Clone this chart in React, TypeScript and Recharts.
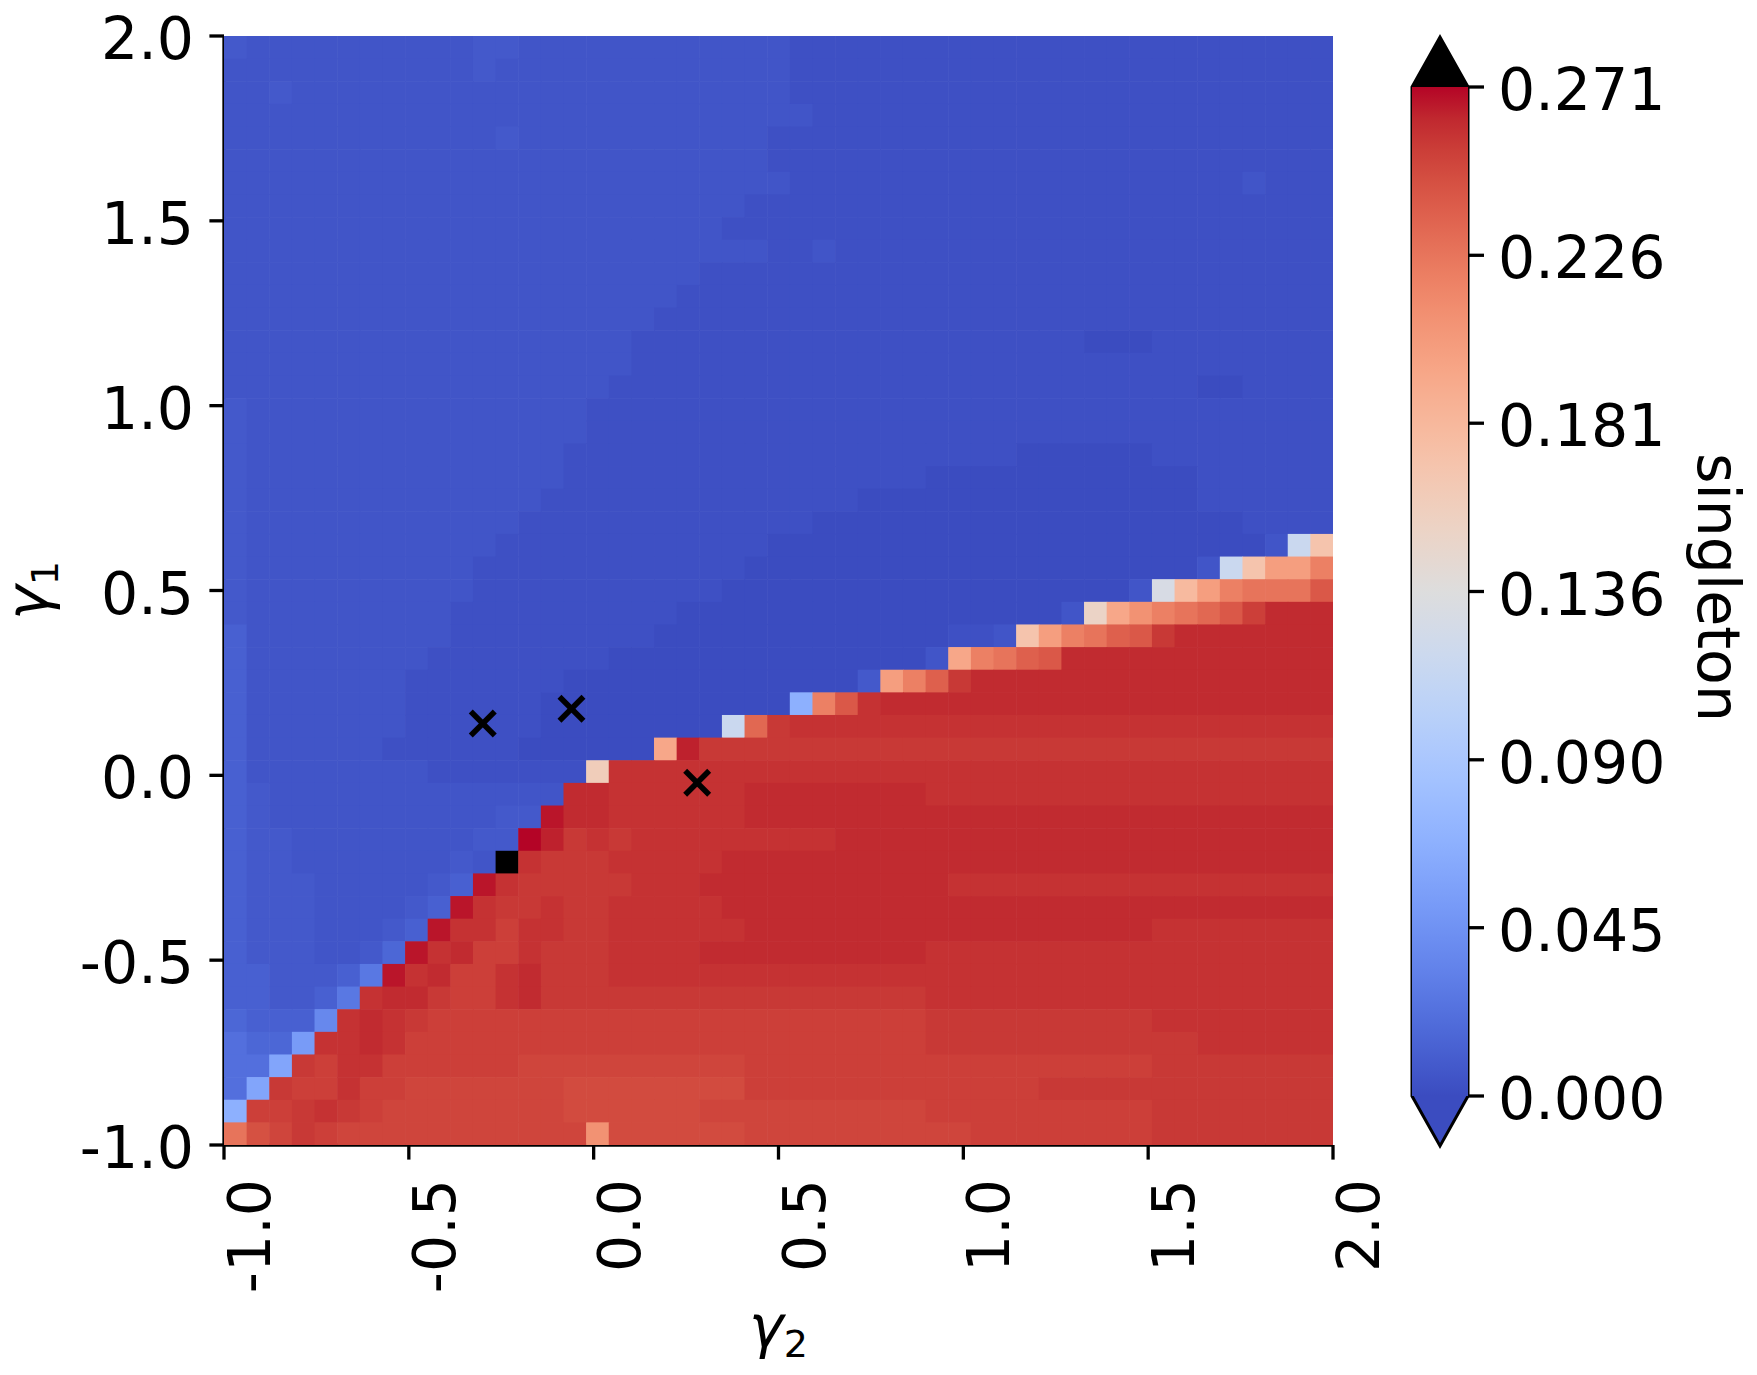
import React from "react";
import {
    ScatterChart,
    Scatter,
    XAxis,
    YAxis,
    BarChart,
    Bar,
    Customized
} from "recharts";

// ===============================
// data
// ===============================

// (γ2, γ1) grid: 49 x 49 cells over [-1, 2]
const GAMMA_MIN = -1;
const GAMMA_MAX = 2;
const GRID_N = 49;

const AXIS_TICKS = [-1, -0.5, 0, 0.5, 1, 1.5, 2];
const AXIS_LABELS = ["-1.0", "-0.5", "0.0", "0.5", "1.0", "1.5", "2.0"];

const CB_MAX = 0.271;
const CB_TICKS = [0, 0.0452, 0.0903, 0.1355, 0.1807, 0.2258, 0.271];
const CB_LABELS = ["0.000", "0.045", "0.090", "0.136", "0.181", "0.226", "0.271"];

// singleton value for each letter used in ROWS ("#" = above colour range)
const LEVELS: Record<string, number> = {
    A: 0.0, B: 0.0027, C: 0.0054, D: 0.0081, E: 0.0122, F: 0.0163,
    G: 0.0217, H: 0.0271, I: 0.0379, J: 0.0515, K: 0.0596, L: 0.0678,
    O: 0.1165, P: 0.1287, R: 0.1518, S: 0.1599, T: 0.1694, U: 0.1789,
    V: 0.1938, W: 0.2005, X: 0.2087, Y: 0.2195, Z: 0.2263,
    a: 0.2331, b: 0.2371, c: 0.2412, d: 0.2453, e: 0.248, f: 0.2507,
    g: 0.2534, h: 0.2561, i: 0.2588, j: 0.2615, k: 0.2642, l: 0.2669,
    m: 0.271, "#": 0.285
};

// one row per γ1 step, top row (γ1 ≈ 2) first, run-length coded: <level><count>
const ROWS = [
    "D1 C10 D2 C12 B24",
    "C11 D1 C13 B24",
    "C2 D1 C22 B24",
    "C26 B23",
    "C12 D1 C11 B25",
    "C24 B25",
    "C25 B20 C1 B3",
    "C23 B26",
    "C22 B27",
    "C24 B2 C1 B22",
    "C21 B28",
    "C20 B29",
    "C19 B30",
    "C18 B20 A3 B8",
    "C18 B31",
    "C17 B26 A2 B4",
    "D1 C15 B33",
    "D1 C15 B33",
    "D1 C14 B20 A6 B8",
    "D1 C14 B16 A12 B6",
    "D1 C13 B14 A15 B6",
    "D1 C12 B13 A19 B4",
    "D1 C11 B12 A22 C1 O1 T1",
    "D1 C10 B12 A20 C1 O1 T1 W2 Y1",
    "D1 C10 B11 A18 C1 P1 U1 W1 Y1 Z3 c1",
    "D1 C9 B10 A17 C1 R1 V1 X1 Y1 Z1 a1 c1 g1 j3",
    "E1 C9 B9 A13 B2 C1 T1 W1 Y1 Z1 b1 c1 h1 j7",
    "E1 C8 B8 A14 C1 V1 Y1 Z1 b1 c1 j12",
    "E1 C7 B7 A13 D1 W1 Y1 b1 h1 j16",
    "E1 C7 B6 A11 L1 Y1 c1 i1 j20",
    "E1 C7 B6 A8 O1 a1 h1 i24",
    "E1 C6 B6 A6 V1 k1 h28",
    "E1 C8 B7 S1 i32",
    "E1 D1 C13 j2 i6 j8 i18",
    "E1 D1 C10 D2 l1 j2 i6 j26",
    "E1 D2 C8 D2 m1 k1 h1 i1 h1 i9 j22",
    "E1 D2 C7 D1 C1 #1 i1 h3 i5 j27",
    "E1 D3 C5 D1 E1 l1 i1 h5 i3 j11 i17",
    "E1 D3 C4 D1 E1 l1 i1 h2 i1 h2 i5 j27",
    "E1 D3 C3 D1 E1 l1 i2 g1 i2 h2 i6 j18 i8",
    "E1 D3 C2 D1 F1 l1 i1 j1 g2 i1 h3 i4 j10 i18",
    "E2 D3 E1 H1 l1 i1 j1 g2 i1 j1 h3 i32",
    "E2 D2 E1 H1 i1 j2 h1 g2 i1 j1 h3 h14 i18",
    "F1 E3 I1 i1 j1 i1 h1 g22 h10 i8",
    "G1 F2 J1 i2 j1 i1 g23 h12 i6",
    "G2 K1 h1 g1 i2 g6 f10 g18 h8",
    "G1 K1 h1 g2 i1 g2 f7 e8 g13 h13",
    "L1 g2 h1 i1 h1 g1 f8 e6 f10 g10 h8",
    "Z1 d1 f1 h1 g1 f11 X1 e6 f10 g8 h8"
];

// marked (γ2, γ1) points
const MARK_G2 = [-0.3, -0.06, 0.28];
const MARK_G1 = [0.14, 0.18, -0.02];

// ===============================
// colormap (coolwarm)
// ===============================
const COOLWARM: number[][] = [
    [59, 76, 192], [68, 90, 204], [77, 104, 215], [87, 117, 225],
    [98, 130, 234], [108, 142, 241], [119, 154, 247], [130, 165, 251],
    [141, 176, 254], [152, 185, 255], [163, 194, 255], [174, 201, 253],
    [184, 208, 249], [194, 213, 244], [204, 217, 238], [213, 219, 230],
    [221, 221, 221], [229, 216, 209], [236, 211, 197], [241, 204, 185],
    [245, 196, 173], [247, 187, 160], [247, 177, 148], [247, 166, 135],
    [244, 154, 123], [241, 141, 111], [236, 127, 99], [229, 112, 88],
    [222, 96, 77], [213, 80, 66], [203, 62, 56], [192, 40, 47],
    [180, 4, 38]
];

function coolwarm(t: number) {
    const n = COOLWARM.length - 1;
    const p = Math.min(Math.max(t, 0), 1) * n;
    const i = Math.min(Math.floor(p), n - 1);
    const f = p - i;
    const a = COOLWARM[i];
    const b = COOLWARM[i + 1];
    const c = a.map((v, k) => Math.round(v + (b[k] - v) * f));
    return `rgb(${c[0]},${c[1]},${c[2]})`;
}

function cellColor(v: number) {
    if (v > CB_MAX) return "#000000";
    return coolwarm(v / CB_MAX);
}

// ===============================
// layout
// ===============================
const FONT = "'DejaVu Sans', sans-serif";
const FS = 58.5;
const SUB_FS = 38;

const MAIN_W = 1420;
const MAIN_H = 1375;
const PLOT_LEFT = 224;
const PLOT_TOP = 36;
const PLOT_SIZE = 1109;
const CELL_PX = PLOT_SIZE / GRID_N;
const SPINE = 3.3;

const CB_X = 1380;
const CB_W = 377;
const CB_BAR_L = 32;
const CB_BAR_W = 56;
const CB_TOP = 87;
const CB_BOTTOM = 1096;
const CB_EXT = 50;

// ===============================
// build cells
// ===============================
function decodeRow(row: string) {
    const out: string[] = [];
    row.split(" ").forEach((tok) => {
        const key = tok[0];
        const count = parseInt(tok.slice(1), 10);
        for (let k = 0; k < count; k++) out.push(key);
    });
    while (out.length < GRID_N) out.push(out[out.length - 1]);
    return out.slice(0, GRID_N);
}

const step = (GAMMA_MAX - GAMMA_MIN) / GRID_N;
const centre = (i: number) => GAMMA_MIN + (i + 0.5) * step;

const cells = ROWS.flatMap((row, ri) => {
    const r = GRID_N - 1 - ri;
    return decodeRow(row).map((key, c) => ({
        g2: centre(c),
        g1: centre(r),
        v: LEVELS[key]
    }));
});

const marks = MARK_G2.map((g2, i) => ({ g2, g1: MARK_G1[i] }));

// ===============================
// shapes
// ===============================
function CellShape(props: any) {
    const { cx, cy, payload } = props;
    return (
        <rect
            x={cx - CELL_PX / 2}
            y={cy - CELL_PX / 2}
            width={CELL_PX + 0.6}
            height={CELL_PX + 0.6}
            fill={cellColor(payload.v)}
        />
    );
}

function CrossShape(props: any) {
    const { cx, cy } = props;
    const a = 12;
    return (
        <g stroke="#000" strokeWidth={5.6} fill="none">
            <line x1={cx - a} y1={cy - a} x2={cx + a} y2={cy + a} />
            <line x1={cx - a} y1={cy + a} x2={cx + a} y2={cy - a} />
        </g>
    );
}

function XTick(props: any) {
    const { x, payload } = props;
    const label = AXIS_LABELS[AXIS_TICKS.indexOf(payload.value)];
    const bx = x + 46;
    const by = 1179;
    return (
        <text
            x={bx}
            y={by}
            transform={`rotate(-90, ${bx}, ${by})`}
            textAnchor="end"
            fontSize={FS}
            fontFamily={FONT}
            fill="#000"
        >
            {label}
        </text>
    );
}

function YTick(props: any) {
    const { y, payload } = props;
    const label = AXIS_LABELS[AXIS_TICKS.indexOf(payload.value)];
    return (
        <text x={194} y={y + 23} textAnchor="end" fontSize={FS} fontFamily={FONT} fill="#000">
            {label}
        </text>
    );
}

function CbTick(props: any) {
    const { y, payload } = props;
    const label = CB_LABELS[CB_TICKS.indexOf(payload.value)];
    return (
        <text x={1498 - CB_X} y={y + 23} textAnchor="start" fontSize={FS} fontFamily={FONT} fill="#000">
            {label}
        </text>
    );
}

function AxisTitles() {
    const cx = PLOT_LEFT + PLOT_SIZE / 2;
    const cy = PLOT_TOP + PLOT_SIZE / 2;
    return (
        <g fontFamily={FONT} fill="#000">
            <text x={cx} y={1347} textAnchor="middle" fontSize={FS}>
                <tspan fontStyle="italic">γ</tspan>
                <tspan fontSize={SUB_FS} dy={10}>2</tspan>
            </text>
            <text
                x={48}
                y={cy}
                transform={`rotate(-90, 48, ${cy})`}
                textAnchor="middle"
                fontSize={FS}
            >
                <tspan fontStyle="italic">γ</tspan>
                <tspan fontSize={SUB_FS} dy={10}>1</tspan>
            </text>
        </g>
    );
}

function ColorbarExtras() {
    const l = CB_BAR_L;
    const r = CB_BAR_L + CB_BAR_W;
    const m = (l + r) / 2;
    const top = CB_TOP - CB_EXT;
    const bot = CB_BOTTOM + CB_EXT;
    const lx = 1698 - CB_X;
    const ly = (CB_TOP + CB_BOTTOM) / 2 - 4;
    return (
        <g>
            <polygon points={`${l},${CB_TOP} ${r},${CB_TOP} ${m},${top}`} fill="#000" />
            <polygon points={`${l},${CB_BOTTOM} ${r},${CB_BOTTOM} ${m},${bot}`} fill={coolwarm(0)} />
            <polygon
                points={`${l},${CB_TOP} ${m},${top} ${r},${CB_TOP} ${r},${CB_BOTTOM} ${m},${bot} ${l},${CB_BOTTOM}`}
                fill="none"
                stroke="#000"
                strokeWidth={3}
                strokeLinejoin="miter"
            />
            <text
                x={lx}
                y={ly}
                transform={`rotate(90, ${lx}, ${ly})`}
                textAnchor="middle"
                fontSize={FS}
                fontFamily={FONT}
                fill="#000"
            >
                singleton
            </text>
        </g>
    );
}

// ===============================
// chart
// ===============================
export default function App() {
    const n = COOLWARM.length - 1;
    return (
        <div
            style={{
                position: "absolute",
                left: 0,
                top: 0,
                width: 1757,
                height: 1375,
                background: "#fff"
            }}
        >
            <div style={{ position: "absolute", left: 0, top: 0 }}>
                <ScatterChart
                    width={MAIN_W}
                    height={MAIN_H}
                    margin={{ top: PLOT_TOP, right: MAIN_W - PLOT_LEFT - PLOT_SIZE, bottom: 0, left: 0 }}
                >
                    <XAxis
                        type="number"
                        dataKey="g2"
                        domain={[GAMMA_MIN, GAMMA_MAX]}
                        ticks={AXIS_TICKS}
                        interval={0}
                        allowDataOverflow
                        height={MAIN_H - PLOT_TOP - PLOT_SIZE}
                        tickSize={14.6}
                        tickLine={{ stroke: "#000", strokeWidth: SPINE }}
                        axisLine={{ stroke: "#000", strokeWidth: SPINE }}
                        tick={(p: any) => <XTick {...p} />}
                    />
                    <YAxis
                        type="number"
                        dataKey="g1"
                        domain={[GAMMA_MIN, GAMMA_MAX]}
                        ticks={AXIS_TICKS}
                        interval={0}
                        allowDataOverflow
                        width={PLOT_LEFT}
                        tickSize={14.6}
                        tickLine={{ stroke: "#000", strokeWidth: SPINE }}
                        axisLine={{ stroke: "#000", strokeWidth: SPINE }}
                        tick={(p: any) => <YTick {...p} />}
                    />
                    <XAxis
                        xAxisId="top"
                        orientation="top"
                        type="number"
                        domain={[GAMMA_MIN, GAMMA_MAX]}
                        height={0}
                        tick={false}
                        tickLine={false}
                        axisLine={{ stroke: "#000", strokeWidth: SPINE }}
                    />
                    <YAxis
                        yAxisId="right"
                        orientation="right"
                        type="number"
                        domain={[GAMMA_MIN, GAMMA_MAX]}
                        width={0}
                        tick={false}
                        tickLine={false}
                        axisLine={{ stroke: "#000", strokeWidth: SPINE }}
                    />
                    <Scatter data={cells} shape={CellShape} isAnimationActive={false} />
                    <Scatter data={marks} shape={CrossShape} isAnimationActive={false} />
                    <Customized component={AxisTitles} />
                </ScatterChart>
            </div>

            <div style={{ position: "absolute", left: CB_X, top: 0 }}>
                <BarChart
                    width={CB_W}
                    height={MAIN_H}
                    data={[{ name: "cb", v: CB_MAX }]}
                    barCategoryGap={0}
                    margin={{ top: CB_TOP, right: 0, bottom: MAIN_H - CB_BOTTOM, left: CB_BAR_L }}
                >
                    <defs>
                        <linearGradient id="cbGrad" x1="0" y1="1" x2="0" y2="0">
                            {COOLWARM.map((c, i) => (
                                <stop
                                    key={i}
                                    offset={i / n}
                                    stopColor={`rgb(${c[0]},${c[1]},${c[2]})`}
                                />
                            ))}
                        </linearGradient>
                    </defs>
                    <XAxis dataKey="name" hide />
                    <YAxis
                        orientation="right"
                        type="number"
                        domain={[0, CB_MAX]}
                        ticks={CB_TICKS}
                        interval={0}
                        allowDataOverflow
                        width={CB_W - CB_BAR_L - CB_BAR_W}
                        tickSize={16}
                        axisLine={false}
                        tickLine={{ stroke: "#000", strokeWidth: SPINE }}
                        tick={(p: any) => <CbTick {...p} />}
                    />
                    <Bar dataKey="v" fill="url(#cbGrad)" isAnimationActive={false} />
                    <Customized component={ColorbarExtras} />
                </BarChart>
            </div>
        </div>
    );
}
